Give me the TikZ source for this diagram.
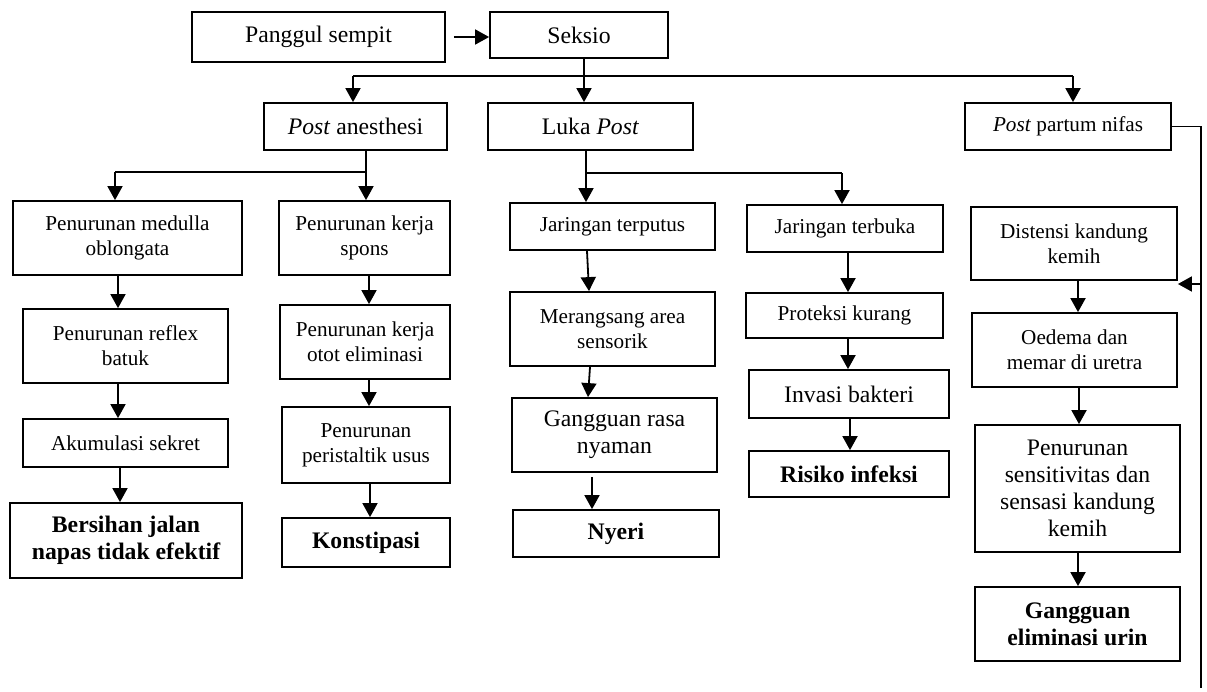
\documentclass[tikz,border=0pt]{standalone}
\usepackage{fontspec}
\setmainfont{Liberation Serif}
\usetikzlibrary{arrows.meta}
\newcommand\mybox[7]{\node[box,#2,minimum width={#5-#3},minimum height={#6-#4}] (#1) at ({(#3+#5)/2},{(#4+#6)/2}) {#7};}
\begin{document}
\begin{tikzpicture}[x=1pt,y=-1pt,
 box/.style={draw,line width=1.8pt,inner sep=0pt,align=center},
 sm/.style={font=\fontsize{21.2}{25}\selectfont},
 lg/.style={font=\fontsize{23.7}{27}\selectfont},
 bd/.style={font=\fontsize{23.7}{27}\selectfont\bfseries},
 arr/.style={line width=1.8pt,-{Triangle[length=14pt,width=15pt]}},
 thinln/.style={line width=1.2pt},
]
\useasboundingbox (0,0) rectangle (1207,691);
\fill[white] (0,0) rectangle (1207,691);

\mybox{pang}{lg}{192}{12}{445}{62}{Panggul sempit}
\mybox{sek}{lg}{490}{12}{668}{58}{Seksio}
\mybox{pa}{lg}{264}{103}{447}{150}{\textit{Post} anesthesi}
\mybox{lp}{lg}{488}{103}{693}{150}{Luka \textit{Post}}
\mybox{ppn}{sm}{965}{103}{1171}{150}{\textit{Post} partum nifas}
\mybox{pmo}{sm}{13}{201}{242}{275}{Penurunan medulla\\oblongata}
\mybox{pks}{sm}{279}{201}{450}{275}{Penurunan kerja\\spons}
\mybox{prb}{sm}{23}{309}{228}{383}{Penurunan reflex\\batuk}
\mybox{pkoe}{sm}{280}{305}{450}{379}{Penurunan kerja\\otot eliminasi}
\mybox{aks}{sm}{23}{419}{228}{467}{Akumulasi sekret}
\mybox{ppu}{sm}{282}{407}{450}{483}{Penurunan\\peristaltik usus}
\mybox{bje}{bd}{10}{503}{242}{578}{Bersihan jalan\\napas tidak efektif}
\mybox{kon}{bd}{282}{518}{450}{567}{Konstipasi}
\mybox{jtp}{sm}{510}{203}{715}{250}{Jaringan terputus}
\mybox{jtb}{sm}{747}{205}{943}{252}{Jaringan terbuka}
\mybox{mas}{sm}{510}{292}{715}{366}{Merangsang area\\sensorik}
\mybox{pku}{sm}{746}{293}{943}{338}{Proteksi kurang}
\mybox{grn}{lg}{512}{398}{717}{472}{Gangguan rasa\\nyaman}
\mybox{iba}{lg}{749}{370}{949}{418}{Invasi bakteri}
\mybox{nye}{bd}{513}{510}{719}{557}{Nyeri}
\mybox{rin}{bd}{749}{451}{949}{497}{Risiko infeksi}
\mybox{dkk}{sm}{971}{207}{1177}{280}{Distensi kandung\\kemih}
\mybox{oed}{sm}{972}{313}{1177}{387}{Oedema dan\\memar di uretra}
\mybox{pss}{lg}{975}{425}{1180}{552}{Penurunan\\sensitivitas dan\\sensasi kandung\\kemih}
\mybox{gel}{bd}{975}{587}{1180}{661}{Gangguan\\eliminasi urin}

% top
\coordinate (pa1) at ([xshift=8pt]pang.east);
\draw[arr] (pa1) -- (sek.west |- pa1);
\draw[arr] (584,0 |- sek.south) -- (584,0 |- lp.north);
\coordinate (s1) at (353,76);
\coordinate (s2) at (1073,76);
\draw[thinln] (s1) -- (s2);
\draw[arr] (s1) -- (s1 |- pa.north);
\draw[arr] (s2) -- (s2 |- ppn.north);

% post anesthesi
\draw[arr] (366,0 |- pa.south) -- (366,0 |- pks.north);
\coordinate (a1) at (115,172);
\coordinate (a2) at (366,172);
\draw[thinln] (a1) -- (a2);
\draw[arr] (a1) -- (a1 |- pmo.north);

% luka post
\draw[arr] (586,0 |- lp.south) -- (586,0 |- jtp.north);
\coordinate (b1) at (586,173);
\coordinate (b2) at (842,173);
\draw[thinln] (b1) -- (b2);
\draw[arr] (b2) -- (b2 |- jtb.north);

% column 1
\draw[arr] (118,0 |- pmo.south) -- (118,0 |- prb.north);
\draw[arr] (118,0 |- prb.south) -- (118,0 |- aks.north);
\draw[arr] (120,0 |- aks.south) -- (120,0 |- bje.north);
% column 2
\draw[arr] (369,0 |- pks.south) -- (369,0 |- pkoe.north);
\draw[arr] (369,0 |- pkoe.south) -- (369,0 |- ppu.north);
\draw[arr] (370,0 |- ppu.south) -- (370,0 |- kon.north);
% column 3
\draw[arr] (587,0 |- jtp.south) -- (589,0 |- mas.north);
\draw[arr] (590,0 |- mas.south) -- (588,0 |- grn.north);
\draw[arr,shorten <=4pt] (592,0 |- grn.south) -- (592,0 |- nye.north);
% column 4
\draw[arr] (848,0 |- jtb.south) -- (848,0 |- pku.north);
\draw[arr] (848,0 |- pku.south) -- (848,0 |- iba.north);
\draw[arr] (850,0 |- iba.south) -- (850,0 |- rin.north);
% column 5
\draw[arr] (1078,0 |- dkk.south) -- (1078,0 |- oed.north);
\draw[arr] (1079,0 |- oed.south) -- (1079,0 |- pss.north);
\draw[arr] (1078,0 |- pss.south) -- (1078,0 |- gel.north);

% right connector
\coordinate (rtop) at (1201,0 |- ppn.east);
\coordinate (rbot) at (1201,688);
\coordinate (rmid) at (1201,284);
\draw[thinln] (ppn.east) -- (rtop) -- (rbot);
\draw[arr] (rmid) -- (rmid -| dkk.east);
\end{tikzpicture}
\end{document}
